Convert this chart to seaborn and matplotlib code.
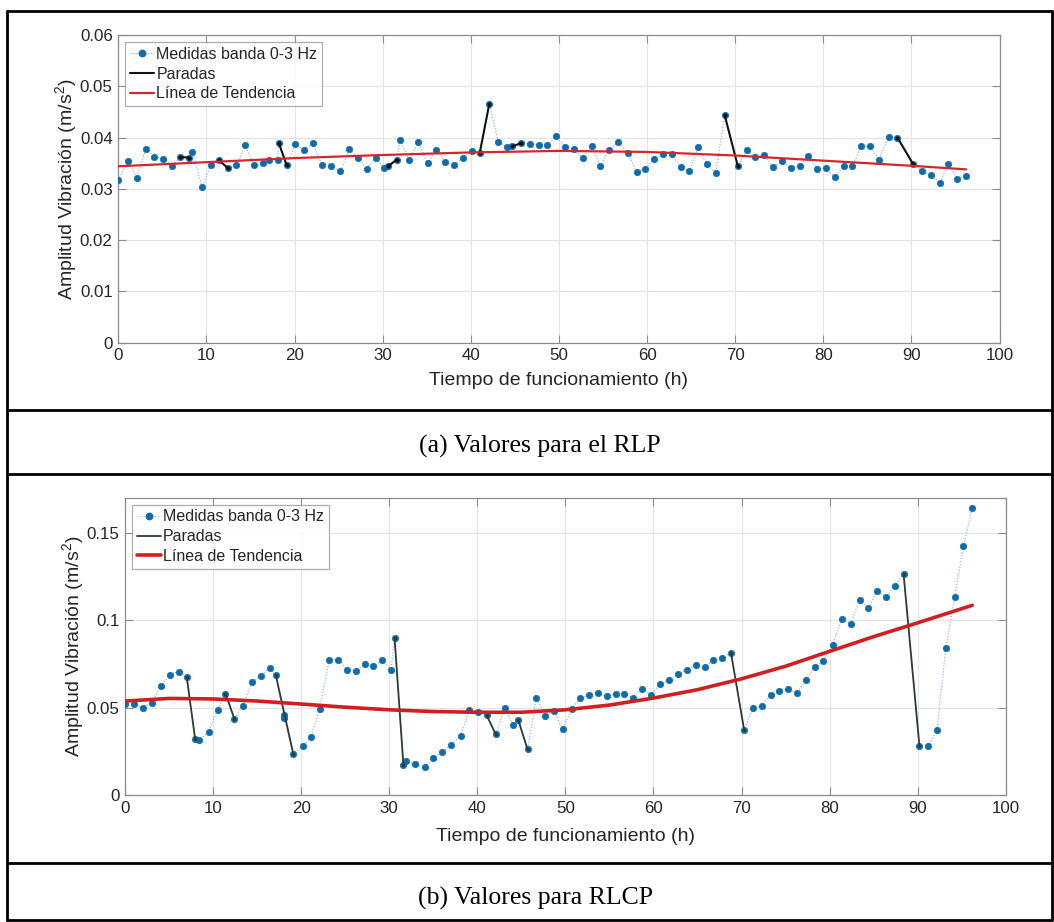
import numpy as np
import pandas as pd
import matplotlib
matplotlib.use("Agg")
import matplotlib.pyplot as plt
from matplotlib.lines import Line2D
import seaborn as sns

# ---------------- data: panel (a) RLP ----------------
t_a = [0.0, 1.1, 2.1, 3.1, 4.1, 5.1, 6.1, 7.0, 8.0, 8.4, 9.5, 10.5,
       11.4, 12.4, 13.4, 14.4, 15.4, 16.4, 17.1, 18.1, 18.2, 19.1, 20.1, 21.1,
       22.1, 23.1, 24.1, 25.2, 26.2, 27.2, 28.2, 29.2, 30.2, 30.6, 31.6, 32.0,
       33.0, 34.0, 35.1, 36.1, 37.1, 38.1, 39.1, 40.1, 41.0, 42.1, 43.1, 44.1,
       44.7, 45.7, 46.7, 47.7, 48.7, 49.7, 50.7, 51.7, 52.7, 53.7, 54.7, 55.7,
       56.7, 57.8, 58.8, 59.8, 60.8, 61.8, 62.8, 63.8, 64.8, 65.8, 66.8, 67.8,
       68.8, 70.3, 71.3, 72.3, 73.3, 74.3, 75.3, 76.3, 77.3, 78.3, 79.3, 80.3,
       81.3, 82.3, 83.3, 84.3, 85.3, 86.3, 87.4, 88.4, 90.2, 91.2, 92.2, 93.2,
       94.2, 95.2, 96.2]
v_a = [0.0317, 0.0354, 0.0322, 0.0378, 0.0363, 0.0359, 0.0345, 0.0362, 0.0361, 0.0372, 0.0303, 0.0347,
       0.0356, 0.0341, 0.0346, 0.0385, 0.0346, 0.0350, 0.0356, 0.0356, 0.0390, 0.0346, 0.0388, 0.0375,
       0.0390, 0.0346, 0.0345, 0.0334, 0.0377, 0.0361, 0.0339, 0.0361, 0.0341, 0.0344, 0.0357, 0.0395,
       0.0356, 0.0391, 0.0350, 0.0376, 0.0353, 0.0347, 0.0360, 0.0374, 0.0369, 0.0466, 0.0392, 0.0382,
       0.0383, 0.0389, 0.0388, 0.0385, 0.0386, 0.0403, 0.0382, 0.0377, 0.0360, 0.0384, 0.0344, 0.0376,
       0.0391, 0.0370, 0.0332, 0.0339, 0.0358, 0.0368, 0.0368, 0.0343, 0.0335, 0.0381, 0.0348, 0.0331,
       0.0444, 0.0344, 0.0375, 0.0362, 0.0366, 0.0342, 0.0354, 0.0341, 0.0344, 0.0365, 0.0339, 0.0340,
       0.0323, 0.0344, 0.0345, 0.0383, 0.0383, 0.0357, 0.0401, 0.0400, 0.0348, 0.0334, 0.0327, 0.0312,
       0.0349, 0.0320, 0.0325]
stop_a_start = [7.0, 11.4, 18.2, 30.6, 41.0, 44.7, 68.8, 88.4]
stop_a_end = [8.0, 12.4, 19.1, 31.6, 42.1, 45.7, 70.3, 90.2]
trend_a_t = [0, 10, 20, 30, 40, 50, 60, 70, 80, 90, 96.2]
trend_a_v = [0.0344, 0.0352, 0.0360, 0.0366, 0.0371, 0.0374, 0.0372, 0.0365, 0.0355, 0.0345, 0.0338]

# ---------------- data: panel (b) RLCP ----------------
t_b = [0.0, 1.0, 2.0, 3.0, 4.05, 5.07, 6.08, 7.0, 7.96, 8.4, 9.5, 10.5,
       11.4, 12.4, 13.4, 14.4, 15.4, 16.4, 17.1, 18.0, 18.05, 19.1, 20.2, 21.1,
       22.1, 23.2, 24.2, 25.2, 26.2, 27.2, 28.2, 29.2, 30.2, 30.6, 31.6, 31.9,
       32.9, 34.0, 35.0, 36.0, 37.0, 38.1, 39.1, 40.1, 41.05, 42.1, 43.1, 44.1,
       44.65, 45.7, 46.7, 47.7, 48.7, 49.7, 50.7, 51.7, 52.7, 53.7, 54.7, 55.7,
       56.7, 57.7, 58.7, 59.7, 60.75, 61.75, 62.75, 63.8, 64.8, 65.8, 66.8, 67.8,
       68.8, 70.3, 71.3, 72.3, 73.3, 74.3, 75.3, 76.3, 77.3, 78.3, 79.3, 80.35,
       81.4, 82.4, 83.4, 84.4, 85.4, 86.4, 87.4, 88.4, 90.2, 91.2, 92.2, 93.2,
       94.2, 95.2, 96.2]
v_b = [0.0521, 0.0523, 0.0500, 0.0528, 0.0623, 0.0689, 0.0706, 0.0675, 0.0319, 0.0315, 0.0362, 0.0489,
       0.0581, 0.0438, 0.0509, 0.0649, 0.0683, 0.0728, 0.0689, 0.0457, 0.0443, 0.0236, 0.0279, 0.0334,
       0.0494, 0.0775, 0.0775, 0.0717, 0.0708, 0.0751, 0.0738, 0.0774, 0.0717, 0.0900, 0.0175, 0.0198,
       0.0179, 0.0160, 0.0211, 0.0247, 0.0285, 0.0340, 0.0487, 0.0475, 0.0458, 0.0347, 0.0498, 0.0400,
       0.0430, 0.0262, 0.0557, 0.0455, 0.0481, 0.0377, 0.0494, 0.0556, 0.0570, 0.0582, 0.0567, 0.0577,
       0.0579, 0.0556, 0.0609, 0.0575, 0.0633, 0.0661, 0.0690, 0.0718, 0.0745, 0.0730, 0.0774, 0.0784,
       0.0814, 0.0372, 0.0496, 0.0511, 0.0574, 0.0593, 0.0607, 0.0584, 0.0658, 0.0730, 0.0769, 0.0858,
       0.1007, 0.0978, 0.1117, 0.1068, 0.1169, 0.1131, 0.1193, 0.1266, 0.0283, 0.0279, 0.0374, 0.0841,
       0.1134, 0.1422, 0.1641]
stop_b_start = [7.0, 11.4, 17.1, 30.6, 41.05, 44.65, 68.8, 88.4]
stop_b_end = [7.96, 12.4, 19.1, 31.6, 42.1, 45.7, 70.3, 90.2]
trend_b_t = [0, 5, 10, 15, 20, 25, 30, 35, 40, 45, 50, 55, 60, 65, 70, 75, 80, 85, 90, 96.2]
trend_b_v = [0.0538, 0.0553, 0.0550, 0.0538, 0.0521, 0.0503, 0.0488, 0.0478, 0.0474, 0.0474,
             0.0488, 0.0515, 0.0555, 0.0603, 0.0665, 0.0737, 0.0822, 0.0906, 0.0985, 0.1085]

# ---------------- text ----------------
x_ticks = [0, 10, 20, 30, 40, 50, 60, 70, 80, 90, 100]
y_ticks_a = [0, 0.01, 0.02, 0.03, 0.04, 0.05, 0.06]
y_ticklabels_a = ["0", "0.01", "0.02", "0.03", "0.04", "0.05", "0.06"]
y_ticks_b = [0, 0.05, 0.1, 0.15]
y_ticklabels_b = ["0", "0.05", "0.1", "0.15"]
xlabel = "Tiempo de funcionamiento (h)"
ylabel = "Amplitud Vibración (m/s$^2$)"
legend_labels = ["Medidas banda 0-3 Hz", "Paradas", "Línea de Tendencia"]
caption_a = "(a) Valores para el RLP"
caption_b = "(b) Valores para RLCP"

# ---------------- style ----------------
sns.set_theme(style="white")
plt.rcParams["font.family"] = ["Liberation Sans", "DejaVu Sans"]
plt.rcParams["mathtext.fontset"] = "custom"
plt.rcParams["mathtext.rm"] = "Liberation Sans"
plt.rcParams["mathtext.it"] = "Liberation Sans:italic"

BLUE = "#0f6cab"
DOT_LINE = "#8aa9c4"
GRID = "#e4e4e4"
SPINE = "#8c8c8c"
TXT = "#262626"

W, H = 1054, 922
fig = plt.figure(figsize=(W / 100, H / 100), dpi=100)
fig.patch.set_facecolor("white")


def px_axes(l, t, r, b):
    return fig.add_axes([l / W, 1 - b / H, (r - l) / W, (b - t) / H])


def stops_frame(t, v, starts, ends):
    rows = []
    for k, (s, e) in enumerate(zip(starts, ends)):
        i = int(np.argmin(np.abs(np.array(t) - s)))
        j = int(np.argmin(np.abs(np.array(t) - e)))
        rows.append({"t": t[i], "v": v[i], "seg": k})
        rows.append({"t": t[j], "v": v[j], "seg": k})
    return pd.DataFrame(rows)


def panel(ax, t, v, starts, ends, tt, tv, yticks, yticklabels, ylim,
          stop_color, stop_lw, stop_ms, trend_color, trend_lw, ylab_x, xlab_y):
    df = pd.DataFrame({"t": t, "v": v})
    sns.lineplot(data=df, x="t", y="v", ax=ax, estimator=None, sort=False,
                 color=DOT_LINE, linestyle=":", linewidth=0.8,
                 marker="o", markersize=4.6, markerfacecolor=BLUE,
                 markeredgecolor=BLUE, markeredgewidth=0.5, zorder=3)
    sdf = stops_frame(t, v, starts, ends)
    sns.lineplot(data=sdf, x="t", y="v", units="seg", estimator=None, sort=False,
                 ax=ax, color=stop_color, linewidth=stop_lw,
                 marker="o", markersize=stop_ms, markeredgewidth=0, zorder=4)
    sns.lineplot(x=tt, y=tv, ax=ax, estimator=None, sort=False,
                 color=trend_color, linewidth=trend_lw, zorder=5)

    ax.set_xlim(0, 100)
    ax.set_ylim(*ylim)
    ax.set_xticks(x_ticks)
    ax.set_xticklabels([str(x) for x in x_ticks])
    ax.set_yticks(yticks)
    ax.set_yticklabels(yticklabels)
    ax.grid(True, color=GRID, linewidth=0.8)
    ax.set_axisbelow(True)
    for s in ax.spines.values():
        s.set_visible(True)
        s.set_color(SPINE)
        s.set_linewidth(0.9)
    ax.tick_params(direction="in", length=6, width=0.8, color=SPINE,
                   labelsize=12.2, labelcolor=TXT, pad=4,
                   top=True, right=True, bottom=True, left=True)
    ax.set_xlabel(xlabel, fontsize=14, color=TXT)
    ax.set_ylabel(ylabel, fontsize=14, color=TXT)
    ax.xaxis.set_label_coords(0.5, xlab_y)
    ax.xaxis.label.set_verticalalignment("center")
    ax.yaxis.set_label_coords(ylab_x, 0.5)
    ax.yaxis.label.set_verticalalignment("center")

    handles = [
        Line2D([], [], color=DOT_LINE, linestyle=":", linewidth=0.8, marker="o",
               markersize=4.6, markerfacecolor=BLUE, markeredgecolor=BLUE),
        Line2D([], [], color=stop_color, linewidth=stop_lw),
        Line2D([], [], color=trend_color, linewidth=trend_lw),
    ]
    w_px = ax.get_position().width * W
    h_px = ax.get_position().height * H
    leg = ax.legend(handles, legend_labels, loc="upper left",
                    bbox_to_anchor=(7 / w_px, 1 - 7 / h_px), borderaxespad=0,
                    fontsize=11.5, frameon=True, fancybox=False,
                    handlelength=1.5, handletextpad=0.15, borderpad=0.3,
                    labelspacing=0.3, numpoints=1)
    leg.get_frame().set_edgecolor("#9a9a9a")
    leg.get_frame().set_linewidth(0.9)
    for txt in leg.get_texts():
        txt.set_color(TXT)
    leg.set_zorder(10)


ax_a = px_axes(118.3, 35.0, 999.6, 342.7)
panel(ax_a, t_a, v_a, stop_a_start, stop_a_end, trend_a_t, trend_a_v,
      y_ticks_a, y_ticklabels_a, (0, 0.06), "#111111", 1.5, 3.0,
      "#d6262a", 1.6, -(118.3 - 66) / 881.3, -(381 - 342.7) / 307.7)

ax_b = px_axes(125.1, 497.7, 1005.7, 795.2)
panel(ax_b, t_b, v_b, stop_b_start, stop_b_end, trend_b_t, trend_b_v,
      y_ticks_b, y_ticklabels_b, (0, 0.17), "#2c3d36", 1.3, 2.5,
      "#d01f1f", 2.6, -(125.1 - 72.7) / 880.6, -(836 - 795.2) / 297.5)

# ---------------- table borders and captions ----------------
def hline(y, x0=7, x1=1052):
    fig.add_artist(Line2D([x0 / W, x1 / W], [1 - y / H, 1 - y / H],
                          transform=fig.transFigure, color="black", linewidth=2.0))


def vline(x, y0=11, y1=920):
    fig.add_artist(Line2D([x / W, x / W], [1 - y0 / H, 1 - y1 / H],
                          transform=fig.transFigure, color="black", linewidth=2.0))


for yy in [11, 410, 474, 863, 920]:
    hline(yy)
vline(7)
vline(1052)

fig.text(540 / W, 1 - 446 / H, caption_a, ha="center", va="center",
         fontsize=18.5, family=["Liberation Serif", "DejaVu Serif"], color="black")
fig.text(536 / W, 1 - 898 / H, caption_b, ha="center", va="center",
         fontsize=18.5, family=["Liberation Serif", "DejaVu Serif"], color="black")

fig.savefig("out.png", dpi=100, facecolor="white")
